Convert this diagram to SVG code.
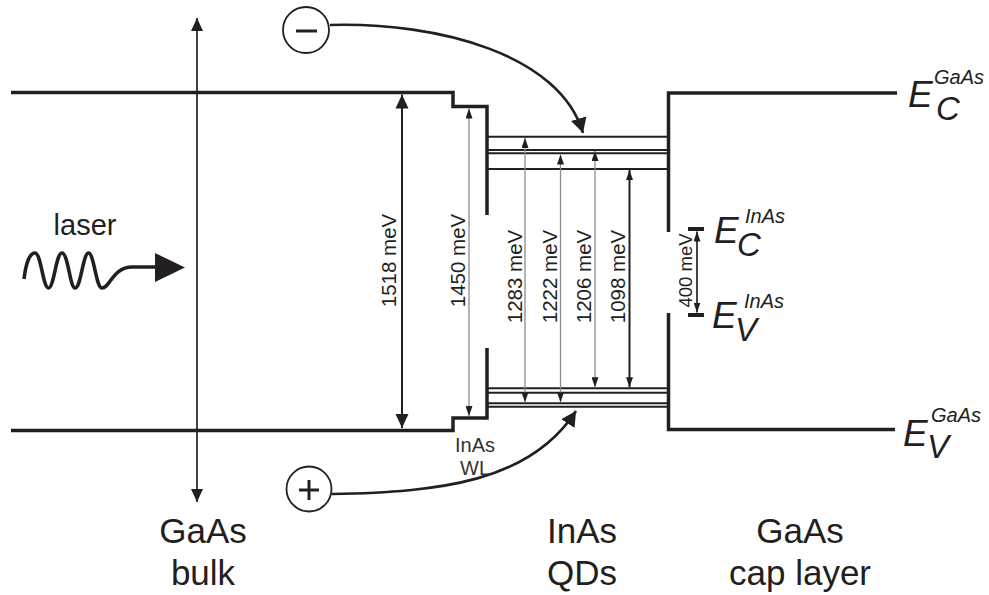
<svg xmlns="http://www.w3.org/2000/svg" width="989" height="595" viewBox="0 0 989 595">
<style>
text { font-family: "Liberation Sans", Arial, sans-serif; fill:#231f20; }
.band { fill:none; stroke:#231f20; stroke-width:3.5; stroke-linejoin:miter; }
.lvl { stroke:#231f20; stroke-width:2; }
.bar { stroke:#231f20; stroke-width:4; }
.ax { stroke:#231f20; stroke-width:1.7; fill:none; }
.gray { stroke:#8a8a8a; stroke-width:1.3; fill:none; }
.blk2 { stroke:#231f20; stroke-width:2; fill:none; }
.curve { stroke:#231f20; stroke-width:2.6; fill:none; }
.circ { fill:#fff; stroke:#231f20; stroke-width:1.8; }
.sign { stroke:#231f20; stroke-width:3; }
.lab { font-size:20.5px; text-anchor:middle; }
.big { font-size:35px; text-anchor:middle; }
.small { font-size:20px; text-anchor:middle; fill:#333; }
.E { font-style:italic; font-size:37px; }
.sub { font-style:italic; font-size:33px; }
.sup { font-style:italic; font-size:20px; }
</style>
<defs>
<marker id="hBig" viewBox="0 0 14 14" markerWidth="14" markerHeight="14" refX="14" refY="7" orient="auto-start-reverse" markerUnits="userSpaceOnUse">
<path d="M0,0.5 L14,7 L0,13.5 z" fill="#231f20"/>
</marker>
<marker id="hMed" viewBox="0 0 13 12" markerWidth="13" markerHeight="12" refX="13" refY="6" orient="auto-start-reverse" markerUnits="userSpaceOnUse">
<path d="M0,0 L13,6 L0,12 z" fill="#231f20"/>
</marker>
<marker id="hSm" viewBox="0 0 10 7" markerWidth="10" markerHeight="7" refX="10" refY="3.5" orient="auto-start-reverse" markerUnits="userSpaceOnUse">
<path d="M0,0 L10,3.5 L0,7 z" fill="#231f20"/>
</marker>
<marker id="hCurve" viewBox="0 0 15 16" markerWidth="15" markerHeight="16" refX="15" refY="8" orient="auto" markerUnits="userSpaceOnUse">
<path d="M0,0 L15,8 L0,16 z" fill="#231f20"/>
</marker>
</defs>

<g id="bands">
<path class="band" d="M11,92.5 H453 V106.5 H487 V215"/>
<path class="band" d="M11,430.5 H453 V418 H487 V348"/>
<path class="band" d="M897,93 H668.5 V232"/>
<path class="band" d="M895,429.5 H668.5 V313"/>
</g>

<g id="qd-levels">
<line class="lvl" x1="487" y1="136.7" x2="668" y2="136.7"/>
<line class="lvl" x1="487" y1="150" x2="668" y2="150"/>
<line class="lvl" x1="487" y1="153.3" x2="668" y2="153.3"/>
<line class="lvl" x1="487" y1="169" x2="668" y2="169"/>
<line class="lvl" x1="487" y1="388.3" x2="668" y2="388.3"/>
<line class="lvl" x1="487" y1="392.7" x2="668" y2="392.7"/>
<line class="lvl" x1="487" y1="403.3" x2="668" y2="403.3"/>
<line class="lvl" x1="487" y1="406.7" x2="668" y2="406.7"/>
</g>

<g id="inas-bulk-levels">
<line class="bar" x1="688" y1="229" x2="704" y2="229"/>
<line class="bar" x1="688" y1="315" x2="704" y2="315"/>
</g>

<g id="connectors">
<line class="ax" x1="197" y1="18" x2="197" y2="502" marker-start="url(#hMed)" marker-end="url(#hMed)"/>
<line class="blk2" x1="402" y1="94.5" x2="402" y2="428" marker-start="url(#hBig)" marker-end="url(#hBig)"/>
<line class="gray" x1="469" y1="108.5" x2="469" y2="416" marker-start="url(#hSm)" marker-end="url(#hSm)"/>
<line class="gray" x1="525" y1="138" x2="525" y2="402.3" marker-start="url(#hSm)" marker-end="url(#hSm)"/>
<line class="gray" x1="560.5" y1="154.5" x2="560.5" y2="402.3" marker-start="url(#hSm)" marker-end="url(#hSm)"/>
<line class="gray" x1="595" y1="151" x2="595" y2="387.3" marker-start="url(#hSm)" marker-end="url(#hSm)"/>
<line class="blk2" x1="629.5" y1="170" x2="629.5" y2="387.3" marker-start="url(#hSm)" marker-end="url(#hSm)"/>
<line class="ax" stroke-width="1.2" x1="697" y1="231.5" x2="697" y2="312.5" marker-start="url(#hSm)" marker-end="url(#hSm)"/>
<path class="curve" d="M330,25 C440,22 560,55 583,133" marker-end="url(#hCurve)"/>
<path class="curve" d="M332,494 C440,492 530,482 576,411" marker-end="url(#hCurve)"/>
</g>

<g id="electron">
<circle class="circ" cx="306" cy="30" r="23"/>
<line class="sign" x1="296" y1="31" x2="317" y2="31"/>
</g>

<g id="hole">
<circle class="circ" cx="309" cy="489" r="22.5"/>
<line class="sign" x1="299" y1="490" x2="319" y2="490"/>
<line class="sign" x1="309" y1="480" x2="309" y2="500"/>
</g>

<g id="laser">
<text x="85" y="235" font-size="29" text-anchor="middle">laser</text>
<path d="M24,279 C26,262 30,253 35,253 C41,253 43,288 48.5,288 C54,288 56,253 62,253 C68,253 70,288 75,288 C81,288 83,253 88.5,253 C94,253 96,288 102,288 C110,288 113,267 132,267 L157,267" fill="none" stroke="#231f20" stroke-width="3.6"/>
<path d="M155,253 L185,267.5 L155,282 z" fill="#231f20"/>
</g>

<g id="energy-labels">
<text class="lab" transform="translate(395.5,260.5) rotate(-90)">1518 meV</text>
<text class="lab" transform="translate(465,260.5) rotate(-90)">1450 meV</text>
<text class="lab" transform="translate(522,276.5) rotate(-90)">1283 meV</text>
<text class="lab" transform="translate(557,276.5) rotate(-90)">1222 meV</text>
<text class="lab" transform="translate(590.5,276.5) rotate(-90)">1206 meV</text>
<text class="lab" transform="translate(625,276.5) rotate(-90)">1098 meV</text>
<text transform="translate(692,270.5) rotate(-90)" font-size="18.5" text-anchor="middle">400 meV</text>
</g>

<g id="band-labels">
<text class="E" x="908" y="107">E</text>
<text class="sub" x="936" y="120">C</text>
<text class="sup" x="934" y="84">GaAs</text>

<text class="E" x="714" y="243" font-size="35">E</text>
<text class="sub" x="737" y="256">C</text>
<text class="sup" x="745" y="223">InAs</text>

<text class="E" x="712" y="328" font-size="35">E</text>
<text class="sub" x="735" y="341">V</text>
<text class="sup" x="744" y="308">InAs</text>

<text class="E" x="903" y="446">E</text>
<text class="sub" x="927" y="458">V</text>
<text class="sup" x="931" y="422">GaAs</text>
</g>

<g id="region-labels">
<text class="small" x="475" y="452">InAs</text>
<text class="small" x="475" y="475">WL</text>
<text class="big" x="203" y="543">GaAs</text>
<text class="big" x="203" y="585">bulk</text>
<text class="big" x="582" y="543">InAs</text>
<text class="big" x="582" y="585">QDs</text>
<text class="big" x="800" y="543">GaAs</text>
<text class="big" x="800" y="585">cap layer</text>
</g>
</svg>
